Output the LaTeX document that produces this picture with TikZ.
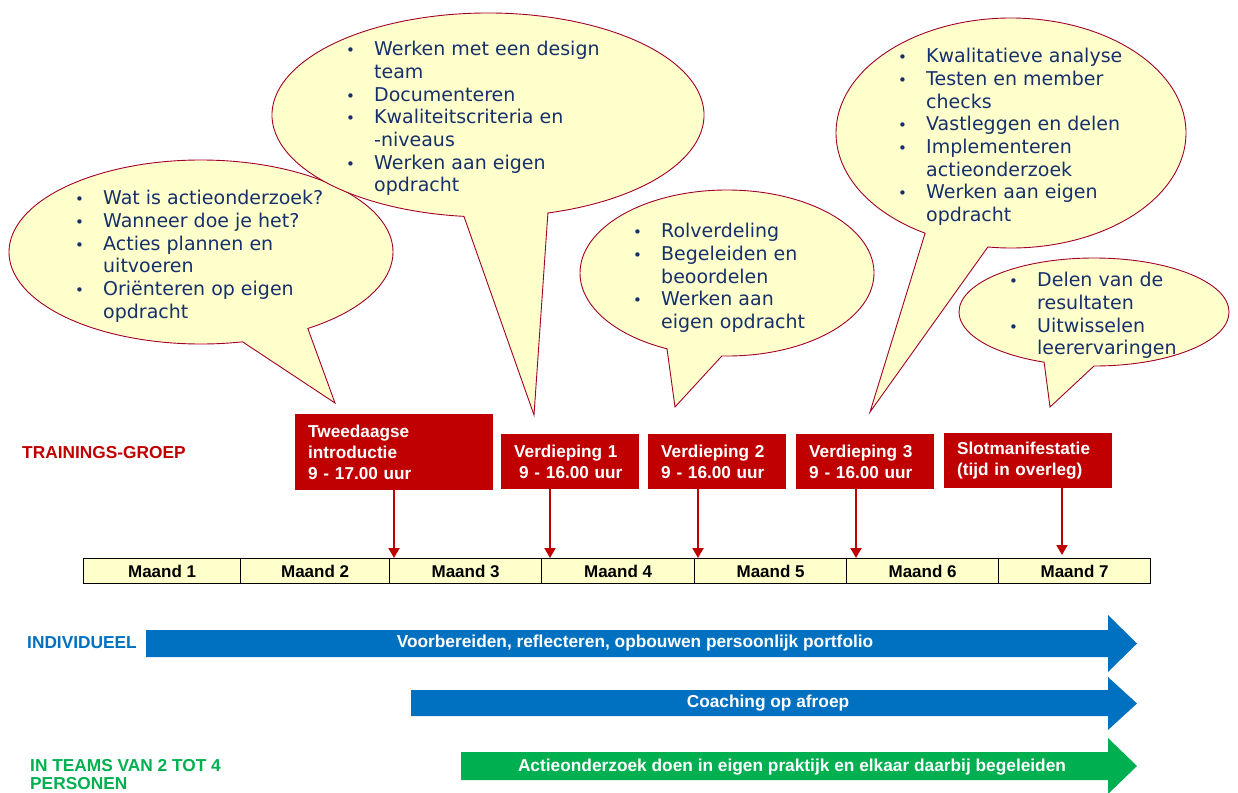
\documentclass[tikz,border=0pt]{standalone}
\usepackage{fontspec}
\setmainfont{Liberation Sans}
\newfontfamily\verd{DejaVu Sans}
\usetikzlibrary{arrows.meta}
\definecolor{bfill}{HTML}{FFFFCC}
\definecolor{bline}{HTML}{A0002A}
\definecolor{btext}{HTML}{15306A}
\definecolor{dred}{HTML}{C00000}
\definecolor{mblue}{HTML}{0070C0}
\definecolor{mgreen}{HTML}{00B050}
\newcommand\bu{\makebox[28pt][l]{\fontsize{15}{15}\selectfont •}}
\newcommand\ind{\hspace*{28pt}}
\newcommand\st{\rule{0pt}{14pt}}
\begin{document}
\begin{tikzpicture}[x=1pt,y=1pt,
 bubble/.style={fill=bfill, draw=bline, line width=0.9pt},
 btxt/.style={anchor=north west, inner sep=0pt, align=left, text=btext, font=\verd\fontsize{19}{22.7}\selectfont},
 redbox/.style={fill=dred, text=white, anchor=north west, inner xsep=13pt, inner ysep=0pt, align=left, font=\bfseries\fontsize{17.2}{21}\selectfont},
 month/.style={fill=bfill, draw=black, line width=1.2pt, anchor=north west, minimum height=25pt, inner sep=0pt, font=\bfseries\fontsize{17}{17}\selectfont},
 redarrow/.style={draw=dred, line width=2pt, -{Triangle[width=11pt,length=10pt]}},
 arrlabel/.style={text=white, inner sep=0pt, font=\bfseries\fontsize{17.3}{17.3}\selectfont},
 sidelabel/.style={inner sep=0pt, align=left, font=\bfseries\fontsize{17.3}{18}\selectfont},
]
\useasboundingbox (0,0) rectangle (1238,-792);

% speech bubbles
\path[bubble] (201,-252) ++(-56.2:192pt and 92pt) arc[start angle=-56.2, end angle=282.5, x radius=192pt, y radius=92pt] -- (335,-403) -- cycle;
\path[bubble] (488,-115) ++(-73.9:216pt and 102pt) arc[start angle=-73.9, end angle=263.6, x radius=216pt, y radius=102pt] -- (534,-415) -- cycle;
\path[bubble] (727,-273) ++(-92:147pt and 83pt) arc[start angle=-92, end angle=245.9, x radius=147pt, y radius=83pt] -- (675,-407) -- cycle;
\path[bubble] (1011,-133) ++(-97.6:175pt and 115pt) arc[start angle=-97.6, end angle=240.6, x radius=175pt, y radius=115pt] -- (870,-412) -- cycle;
\path[bubble] (1094,-312) ++(-90:135pt and 54pt) arc[start angle=-90, end angle=248.3, x radius=135pt, y radius=54pt] -- (1050,-407) -- cycle;

\node[btxt] (t1) at (75,-190) {\st\bu Wat is actieonderzoek?\\ \bu Wanneer doe je het?\\ \bu Acties plannen en\\ \ind uitvoeren\\ \bu Oriënteren op eigen\\ \ind opdracht};
\node[btxt] (t2) at (346,-41) {\st\bu Werken met een design\\ \ind team\\ \bu Documenteren\\ \bu Kwaliteitscriteria en\\ \ind -niveaus\\ \bu Werken aan eigen\\ \ind opdracht};
\node[btxt] (t3) at (633,-223) {\st\bu Rolverdeling\\ \bu Begeleiden en\\ \ind beoordelen\\ \bu Werken aan\\ \ind eigen opdracht};
\node[btxt] (t4) at (898,-48) {\st\bu Kwalitatieve analyse\\ \bu Testen en member\\ \ind checks\\ \bu Vastleggen en delen\\ \bu Implementeren\\ \ind actieonderzoek\\ \bu Werken aan eigen\\ \ind opdracht};
\node[btxt] (t5) at (1009,-272) {\st\bu Delen van de\\ \ind resultaten\\ \bu Uitwisselen\\ \ind leerervaringen};

% red session boxes
\node[redbox, text width=172pt, minimum height=76pt] (tw) at (295,-414) {Tweedaagse\\introductie\\9 - 17.00 uur};
\node[redbox, text width=112pt, minimum height=55pt] (v1) at (501,-434) {Verdieping 1\\\hspace*{5pt}9 - 16.00 uur};
\node[redbox, text width=112pt, minimum height=55pt] (v2) at (648,-434) {Verdieping 2\\9 - 16.00 uur};
\node[redbox, text width=112pt, minimum height=55pt] (v3) at (796,-434) {Verdieping 3\\9 - 16.00 uur};
\node[redbox, text width=142pt, minimum height=55pt] (sl) at (944,-433) {Slotmanifestatie\\(tijd in overleg)};

% months
\node[month, minimum width=157pt] (m1) at (83,-558) {Maand 1};
\node[month, minimum width=149pt] (m2) at (240,-558) {Maand 2};
\node[month, minimum width=152pt] (m3) at (389,-558) {Maand 3};
\node[month, minimum width=153pt] (m4) at (541,-558) {Maand 4};
\node[month, minimum width=152pt] (m5) at (694,-558) {Maand 5};
\node[month, minimum width=152pt] (m6) at (846,-558) {Maand 6};
\node[month, minimum width=152pt] (m7) at (998,-558) {Maand 7};

% arrows from sessions to timeline
\coordinate (a1) at (394,0);
\coordinate (a2) at (550,0);
\coordinate (a3) at (698,0);
\coordinate (a4) at (856,0);
\coordinate (a5) at (1062,0);
\draw[redarrow] (tw.south -| a1) -- (a1 |- m3.north);
\draw[redarrow] (v1.south -| a2) -- (a2 |- m4.north);
\draw[redarrow] (v2.south -| a3) -- (a3 |- m5.north);
\draw[redarrow] (v3.south -| a4) -- (a4 |- m6.north);
\draw[redarrow, shorten >=3pt] (sl.south -| a5) -- (a5 |- m7.north);

% side labels
\node[sidelabel, anchor=west, text=dred] (tg) at (22,-453) {TRAININGS-GROEP};
\node[sidelabel, anchor=west, text=mblue] (ind) at (27,-643) {INDIVIDUEEL};
\node[sidelabel, anchor=north west, text=mgreen] (team) at (30,-759) {\rule{0pt}{12pt}IN TEAMS VAN 2 TOT 4\\PERSONEN};

% wide arrows
\fill[mblue] (146,-630) -- (1108,-630) -- (1108,-615) -- (1137,-643.5) -- (1108,-672) -- (1108,-657) -- (146,-657) -- cycle;
\fill[mblue] (411,-690) -- (1108,-690) -- (1108,-677) -- (1137,-703.5) -- (1108,-730) -- (1108,-716) -- (411,-716) -- cycle;
\fill[mgreen] (461,-752) -- (1108,-752) -- (1108,-738) -- (1137,-766) -- (1108,-794) -- (1108,-780) -- (461,-780) -- cycle;
\node[arrlabel] (l1) at (635,-643.5) {Voorbereiden, reflecteren, opbouwen persoonlijk portfolio};
\node[arrlabel] (l2) at (768,-703.5) {Coaching op afroep};
\node[arrlabel] (l3) at (792,-767) {Actieonderzoek doen in eigen praktijk en elkaar daarbij begeleiden};
\end{tikzpicture}
\end{document}
